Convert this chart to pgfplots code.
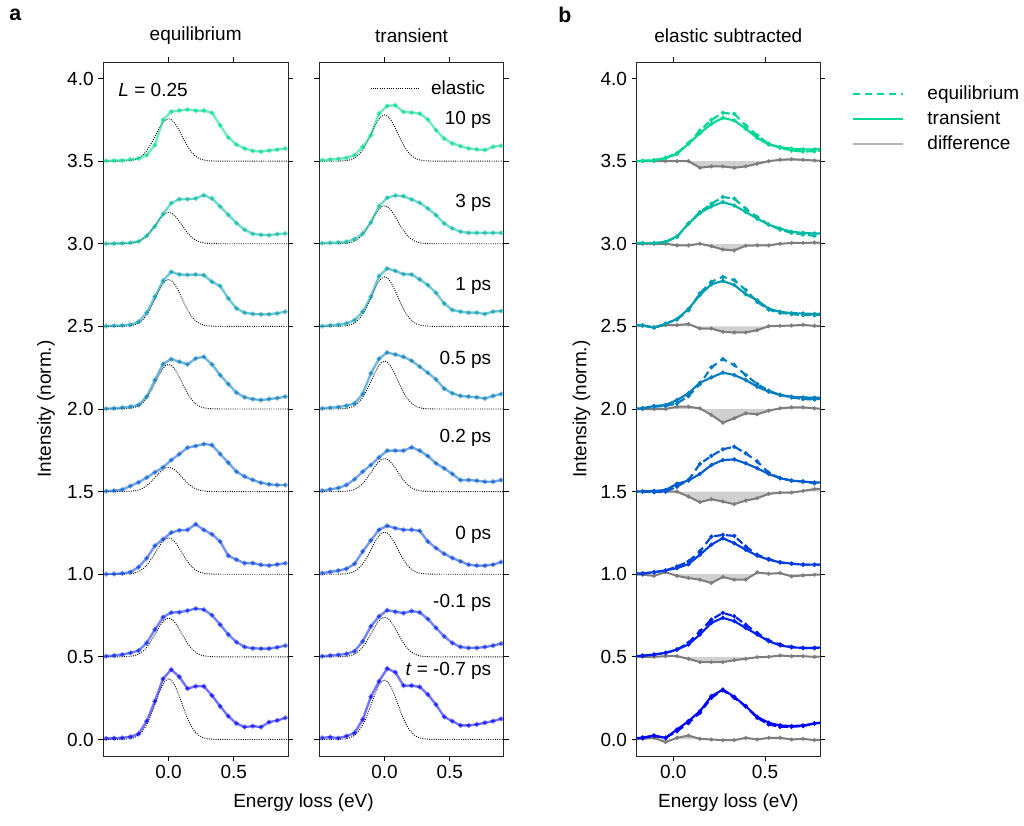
\documentclass[border=0pt]{standalone}
\usepackage{fontspec}
\setmainfont{Liberation Sans}
\usepackage{pgfplots}
\pgfplotsset{compat=1.18}
\usepackage{pgfplotstable}

\definecolor{c0}{RGB}{0,0,255}
\definecolor{c1}{RGB}{0,31,239}
\definecolor{c2}{RGB}{0,62,224}
\definecolor{c3}{RGB}{0,93,209}
\definecolor{c4}{RGB}{0,124,193}
\definecolor{c5}{RGB}{0,155,178}
\definecolor{c6}{RGB}{0,186,162}
\definecolor{c7}{RGB}{0,217,147}
\definecolor{diffc}{RGB}{125,125,125}
\definecolor{diffleg}{RGB}{180,180,180}
\definecolor{fillg}{RGB}{208,208,208}

\newcommand{\fs}{\fontsize{14.25pt}{17pt}\selectfont}

% panel a, equilibrium: intensity above each baseline
\pgfplotstableread{
E r0 r1 r2 r3 r4 r5 r6 r7
-0.48 0.006 0.004 0.001 0.003 0.002 0.002 0.000 0.002
-0.4175 0.008 0.008 0.002 0.006 0.004 0.004 0.001 0.003
-0.355 0.010 0.014 0.005 0.012 0.008 0.006 0.003 0.005
-0.2925 0.016 0.024 0.013 0.034 0.014 0.010 0.006 0.010
-0.23 0.034 0.038 0.043 0.056 0.024 0.028 0.014 0.016
-0.1675 0.111 0.084 0.097 0.085 0.075 0.083 0.048 0.036
-0.105 0.232 0.165 0.172 0.117 0.175 0.180 0.105 0.097
-0.0425 0.367 0.240 0.212 0.147 0.272 0.276 0.180 0.250
0.02 0.423 0.268 0.252 0.191 0.302 0.330 0.246 0.300
0.0825 0.379 0.270 0.266 0.227 0.286 0.314 0.270 0.306
0.145 0.308 0.280 0.268 0.266 0.270 0.312 0.270 0.312
0.2075 0.322 0.292 0.303 0.276 0.306 0.314 0.274 0.306
0.27 0.322 0.286 0.268 0.288 0.316 0.310 0.294 0.306
0.3325 0.266 0.252 0.242 0.282 0.270 0.270 0.274 0.292
0.395 0.201 0.195 0.198 0.228 0.205 0.244 0.226 0.217
0.4575 0.141 0.135 0.112 0.175 0.151 0.169 0.175 0.143
0.52 0.097 0.089 0.088 0.121 0.099 0.109 0.125 0.100
0.5825 0.075 0.060 0.067 0.091 0.071 0.083 0.085 0.077
0.645 0.081 0.052 0.067 0.071 0.060 0.075 0.060 0.062
0.7075 0.075 0.050 0.057 0.054 0.054 0.073 0.054 0.058
0.77 0.105 0.050 0.053 0.044 0.060 0.073 0.052 0.064
0.8325 0.115 0.058 0.059 0.040 0.066 0.079 0.058 0.070
0.895 0.131 0.068 0.067 0.040 0.075 0.089 0.062 0.077
}\tabEq

% panel a, transient
\pgfplotstableread{
E r0 r1 r2 r3 r4 r5 r6 r7
-0.48 0.010 0.004 0.007 0.006 0.004 0.002 0.004 0.006
-0.4175 0.014 0.008 0.014 0.014 0.008 0.006 0.006 0.010
-0.355 0.008 0.012 0.022 0.022 0.012 0.010 0.008 0.014
-0.2925 0.020 0.018 0.033 0.040 0.020 0.018 0.012 0.020
-0.23 0.040 0.034 0.063 0.075 0.034 0.038 0.028 0.036
-0.1675 0.121 0.094 0.138 0.121 0.091 0.089 0.062 0.087
-0.105 0.258 0.185 0.205 0.161 0.216 0.179 0.129 0.157
-0.0425 0.352 0.245 0.269 0.207 0.304 0.304 0.228 0.288
0.02 0.429 0.282 0.293 0.248 0.342 0.350 0.278 0.334
0.0825 0.407 0.273 0.279 0.248 0.330 0.336 0.292 0.338
0.145 0.326 0.265 0.269 0.248 0.316 0.316 0.288 0.298
0.2075 0.326 0.277 0.269 0.268 0.292 0.314 0.268 0.294
0.27 0.318 0.269 0.263 0.248 0.256 0.284 0.248 0.288
0.3325 0.272 0.229 0.198 0.215 0.219 0.250 0.214 0.252
0.395 0.211 0.175 0.158 0.171 0.179 0.203 0.173 0.187
0.4575 0.137 0.124 0.124 0.141 0.123 0.139 0.123 0.137
0.52 0.111 0.084 0.098 0.107 0.095 0.099 0.093 0.107
0.5825 0.085 0.060 0.078 0.070 0.079 0.089 0.073 0.091
0.645 0.085 0.054 0.058 0.070 0.075 0.083 0.066 0.077
0.7075 0.091 0.054 0.052 0.066 0.071 0.083 0.066 0.071
0.77 0.101 0.060 0.052 0.060 0.064 0.075 0.066 0.067
0.8325 0.111 0.068 0.058 0.060 0.079 0.089 0.066 0.087
0.895 0.125 0.080 0.074 0.070 0.091 0.093 0.066 0.093
}\tabTr

% elastic line shape (peak normalised to 1)
\pgfplotstableread{
E g
-0.55 0
-0.45 0
-0.4 0.0003
-0.35 0.0022
-0.3 0.0111
-0.275 0.0228
-0.25 0.0439
-0.225 0.0796
-0.2 0.1353
-0.175 0.2163
-0.15 0.3247
-0.125 0.4578
-0.1 0.6065
-0.075 0.7548
-0.05 0.8825
-0.025 0.9692
0 1
0.025 0.9692
0.05 0.8825
0.075 0.7548
0.1 0.6065
0.125 0.4578
0.15 0.3247
0.175 0.2163
0.2 0.1353
0.225 0.0796
0.25 0.0439
0.275 0.0228
0.3 0.0111
0.35 0.0022
0.4 0.0003
0.45 0
0.95 0
}\tabG

% panel b: e = equilibrium, t = transient, d = difference (above baseline)
\pgfplotstableread{
E e0 t0 d0 e1 t1 d1 e2 t2 d2 e3 t3 d3 e4 t4 d4 e5 t5 d5 e6 t6 d6 e7 t7 d7
-0.23 0.004 0.004 0 0.004 0.004 0 0.003 0.003 0 0 0 0 0 0 0 0.008 0.008 0.008 0.004 0.004 0 0 0 0
-0.1675 0.010 0.012 0.004 0.007 0.007 0 0.005 0.005 -0.003 0 0.002 0 0.004 0.005 0 0.006 0.006 0.004 0.004 0.004 0 0.002 0.002 0
-0.105 0.020 0.024 0.010 0.014 0.014 0 0.011 0.013 -0.010 -0.004 0.004 0 0.014 0.018 0 -0.006 -0.008 -0.007 0.004 0.004 0 0.006 0.004 0
-0.0425 0.010 0.010 -0.016 0.024 0.024 0.004 0.023 0.023 0.013 0.000 0.010 0 0.018 0.024 0 0.015 0.016 0.008 0.011 0.011 0 0.020 0.018 0
0.02 0.050 0.060 0.010 0.044 0.044 0.004 0.047 0.037 -0.010 0.030 0.047 0 0.034 0.054 0.014 0.042 0.045 0.008 0.041 0.045 -0.010 0.048 0.044 0
0.0825 0.100 0.111 0.024 0.085 0.075 -0.012 0.077 0.061 -0.023 0.070 0.067 -0.030 0.078 0.095 0.014 0.098 0.105 0.014 0.122 0.122 -0.010 0.109 0.105 0
0.145 0.161 0.171 0.004 0.155 0.135 -0.032 0.138 0.118 -0.033 0.168 0.107 -0.064 0.151 0.159 0.004 0.200 0.190 -0.013 0.192 0.186 0 0.185 0.169 -0.040
0.2075 0.252 0.262 0 0.226 0.206 -0.032 0.228 0.179 -0.053 0.216 0.161 -0.046 0.252 0.191 -0.036 0.270 0.255 -0.013 0.242 0.226 -0.015 0.250 0.226 -0.032
0.27 0.298 0.302 -0.004 0.266 0.236 -0.032 0.238 0.218 -0.017 0.256 0.191 -0.060 0.302 0.220 -0.083 0.300 0.275 -0.033 0.283 0.252 -0.035 0.292 0.262 -0.032
0.3325 0.252 0.258 -0.004 0.246 0.216 -0.020 0.232 0.188 -0.033 0.272 0.195 -0.076 0.266 0.206 -0.056 0.280 0.250 -0.037 0.273 0.232 -0.040 0.286 0.246 -0.040
0.395 0.201 0.201 0.010 0.195 0.175 -0.012 0.168 0.148 -0.033 0.232 0.171 -0.054 0.205 0.175 -0.026 0.220 0.195 -0.037 0.212 0.192 -0.012 0.216 0.196 -0.032
0.4575 0.131 0.137 0 0.145 0.135 -0.002 0.118 0.112 0.011 0.182 0.141 -0.040 0.151 0.135 -0.032 0.148 0.158 -0.023 0.162 0.152 -0.010 0.155 0.141 -0.016
0.52 0.091 0.101 0.010 0.100 0.095 0 0.092 0.088 0.003 0.115 0.107 -0.014 0.111 0.105 -0.010 0.101 0.107 0.001 0.116 0.116 -0.010 0.105 0.101 0
0.5825 0.077 0.085 0.010 0.075 0.069 0.008 0.072 0.072 0.007 0.081 0.081 -0.006 0.085 0.085 0.004 0.082 0.088 0.003 0.086 0.092 0 0.081 0.085 0.008
0.645 0.077 0.081 0 0.060 0.058 0.004 0.064 0.064 -0.013 0.067 0.067 -0.006 0.070 0.074 0.010 0.074 0.080 0.005 0.066 0.072 0.005 0.064 0.075 0.012
0.7075 0.081 0.085 0.004 0.054 0.054 0.004 0.058 0.058 -0.007 0.061 0.061 0.004 0.060 0.070 0.010 0.068 0.078 0.009 0.056 0.066 0.005 0.058 0.071 0.008
0.77 0.097 0.097 -0.004 0.054 0.054 0 0.058 0.058 -0.003 0.051 0.055 0.016 0.058 0.068 0.004 0.068 0.075 0.003 0.048 0.062 0.007 0.060 0.071 0.004
0.8325 0.105 0.105 0 0.058 0.058 0.004 0.058 0.058 0 0.045 0.055 0.016 0.064 0.070 0 0.074 0.078 0.001 0.045 0.062 0.007 0.068 0.075 0
}\tabB

% difference area polygons: the difference values, then back along the baseline
\pgfplotstableread{
E d0 d1 d2 d3 d4 d5 d6 d7
-0.23 0 0 0 0 0 0.008 0 0
-0.1675 0.004 0 -0.003 0 0 0.004 0 0
-0.105 0.010 0 -0.010 0 0 -0.007 0 0
-0.0425 -0.016 0.004 0.013 0 0 0.008 0 0
0.02 0.010 0.004 -0.010 0 0.014 0.008 -0.010 0
0.0825 0.024 -0.012 -0.023 -0.030 0.014 0.014 -0.010 0
0.145 0.004 -0.032 -0.033 -0.064 0.004 -0.013 0 -0.040
0.2075 0 -0.032 -0.053 -0.046 -0.036 -0.013 -0.015 -0.032
0.27 -0.004 -0.032 -0.017 -0.060 -0.083 -0.033 -0.035 -0.032
0.3325 -0.004 -0.020 -0.033 -0.076 -0.056 -0.037 -0.040 -0.040
0.395 0.010 -0.012 -0.033 -0.054 -0.026 -0.037 -0.012 -0.032
0.4575 0 -0.002 0.011 -0.040 -0.032 -0.023 -0.010 -0.016
0.52 0.010 0 0.003 -0.014 -0.010 0.001 -0.010 0
0.5825 0.010 0.008 0.007 -0.006 0.004 0.003 0 0.008
0.645 0 0.004 -0.013 -0.006 0.010 0.005 0.005 0.012
0.7075 0.004 0.004 -0.007 0.004 0.010 0.009 0.005 0.008
0.77 -0.004 0 -0.003 0.016 0.004 0.003 0.007 0.004
0.8325 0 0.004 0 0.016 0 0.001 0.007 0
0.8325 0 0 0 0 0 0 0 0
-0.23 0 0 0 0 0 0 0 0
}\tabD

\pgfplotsset{
  base/.style={
    scale only axis, height=520.5pt, clip mode=individual,
    ymin=-0.1, ymax=4.1,
    ytick={0,0.5,1,1.5,2,2.5,3,3.5,4},
    xtick={0,0.5},
    tick align=outside, major tick length=3.75pt,
    tick style={black, line width=0.6pt},
    axis line style={line width=0.6pt, black!85},
    xticklabel pos=lower, yticklabel pos=left,
    /pgf/number format/assume math mode=true,
    ticklabel style={font=\fs},
    xticklabel style={/pgf/number format/.cd, fixed, fixed zerofill, precision=1},
    yticklabel style={/pgf/number format/.cd, fixed, fixed zerofill, precision=1},
    label style={font=\fs},
    every axis title/.style={font=\fs, at={(0.5,1.0375)}, anchor=center},
    xlabel style={at={(0.5,-0.0677)}, anchor=center},
    ylabel style={anchor=center},
  },
  dat/.style={color=#1, line width=1.8pt, opacity=0.55, mark=*, mark size=0.8pt, forget plot},
  ela/.style={black, line width=0.7pt, densely dotted, forget plot},
  eqs/.style={color=#1, line width=1.6pt, dash pattern=on 5.5pt off 3.5pt, mark=*, mark size=0.65pt, mark options={solid}, forget plot},
  trs/.style={color=#1, line width=1.6pt, mark=*, mark size=0.65pt, forget plot},
  diffl/.style={diffc, line width=1.5pt, mark=*, mark size=0.6pt, forget plot},
}

\newcommand{\grp}[3]{%
  \addplot[fill=fillg, draw=none, forget plot] table[x=E, y expr=\thisrow{d#1}+#2] {\tabD} -- cycle;
  \addplot[diffl] table[x=E, y expr=\thisrow{d#1}+#2] {\tabB};
  \addplot[eqs=#3] table[x=E, y expr=\thisrow{e#1}+#2] {\tabB};
  \addplot[trs=#3] table[x=E, y expr=\thisrow{t#1}+#2] {\tabB};
}

\begin{document}
\begin{tikzpicture}
\useasboundingbox (0,0) rectangle (768pt,618.75pt);

% ---------------- equilibrium
\begin{axis}[base, at={(77.5pt,51.75pt)}, anchor=south west, width=138.5pt,
  xmin=-0.5, xmax=0.915, title={equilibrium},
  ylabel={Intensity (norm.)}, ylabel style={at={(-0.31,0.5)}}]
\addplot[ela] table[x=E, y expr=0.367*\thisrow{g}+0] {\tabG};
\addplot[ela] table[x=E, y expr=0.235*\thisrow{g}+0.5] {\tabG};
\addplot[ela] table[x=E, y expr=0.22*\thisrow{g}+1] {\tabG};
\addplot[ela] table[x=E, y expr=0.147*\thisrow{g}+1.5] {\tabG};
\addplot[ela] table[x=E, y expr=0.27*\thisrow{g}+2] {\tabG};
\addplot[ela] table[x=E, y expr=0.284*\thisrow{g}+2.5] {\tabG};
\addplot[ela] table[x=E, y expr=0.19*\thisrow{g}+3] {\tabG};
\addplot[ela] table[x=E, y expr=0.257*\thisrow{g}+3.5] {\tabG};
\addplot[dat=c0] table[x=E, y expr=\thisrow{r0}+0] {\tabEq};
\addplot[dat=c1] table[x=E, y expr=\thisrow{r1}+0.5] {\tabEq};
\addplot[dat=c2] table[x=E, y expr=\thisrow{r2}+1] {\tabEq};
\addplot[dat=c3] table[x=E, y expr=\thisrow{r3}+1.5] {\tabEq};
\addplot[dat=c4] table[x=E, y expr=\thisrow{r4}+2] {\tabEq};
\addplot[dat=c5] table[x=E, y expr=\thisrow{r5}+2.5] {\tabEq};
\addplot[dat=c6] table[x=E, y expr=\thisrow{r6}+3] {\tabEq};
\addplot[dat=c7] table[x=E, y expr=\thisrow{r7}+3.5] {\tabEq};
\node[anchor=west, font=\fs] at (axis cs:-0.42,3.933) {\textit{L} = 0.25};
\node[font=\fontsize{16pt}{18pt}\selectfont\bfseries] at (axis description cs:-0.476,1.068) {a};
\end{axis}

% ---------------- transient
\begin{axis}[base, at={(239.55pt,51.75pt)}, anchor=south west, width=138.3pt,
  xmin=-0.5, xmax=0.915, title={transient}, yticklabels={},
  xlabel={Energy loss (eV)}, xlabel style={at={(-0.086,-0.0677)}},
  legend style={draw=none, fill=none, at={(0.274,0.975)}, anchor=north west,
    inner sep=0pt, font=\fs, nodes={inner sep=1pt}},
  legend image code/.code={\draw[#1] (0pt,0pt) -- (37pt,0pt); \path (44pt,0pt);}]
\addlegendimage{black, line width=0.7pt, densely dotted}
\addlegendentry{elastic}
\addplot[ela] table[x=E, y expr=0.36*\thisrow{g}+0] {\tabG};
\addplot[ela] table[x=E, y expr=0.24*\thisrow{g}+0.5] {\tabG};
\addplot[ela] table[x=E, y expr=0.255*\thisrow{g}+1] {\tabG};
\addplot[ela] table[x=E, y expr=0.20*\thisrow{g}+1.5] {\tabG};
\addplot[ela] table[x=E, y expr=0.29*\thisrow{g}+2] {\tabG};
\addplot[ela] table[x=E, y expr=0.30*\thisrow{g}+2.5] {\tabG};
\addplot[ela] table[x=E, y expr=0.23*\thisrow{g}+3] {\tabG};
\addplot[ela] table[x=E, y expr=0.28*\thisrow{g}+3.5] {\tabG};
\addplot[dat=c0] table[x=E, y expr=\thisrow{r0}+0] {\tabTr};
\addplot[dat=c1] table[x=E, y expr=\thisrow{r1}+0.5] {\tabTr};
\addplot[dat=c2] table[x=E, y expr=\thisrow{r2}+1] {\tabTr};
\addplot[dat=c3] table[x=E, y expr=\thisrow{r3}+1.5] {\tabTr};
\addplot[dat=c4] table[x=E, y expr=\thisrow{r4}+2] {\tabTr};
\addplot[dat=c5] table[x=E, y expr=\thisrow{r5}+2.5] {\tabTr};
\addplot[dat=c6] table[x=E, y expr=\thisrow{r6}+3] {\tabTr};
\addplot[dat=c7] table[x=E, y expr=\thisrow{r7}+3.5] {\tabTr};
\node[anchor=east, font=\fs] at (axis cs:0.855,3.752) {10 ps};
\node[anchor=east, font=\fs] at (axis cs:0.855,3.248) {3 ps};
\node[anchor=east, font=\fs] at (axis cs:0.855,2.744) {1 ps};
\node[anchor=east, font=\fs] at (axis cs:0.855,2.296) {0.5 ps};
\node[anchor=east, font=\fs] at (axis cs:0.855,1.828) {0.2 ps};
\node[anchor=east, font=\fs] at (axis cs:0.855,1.236) {0 ps};
\node[anchor=east, font=\fs] at (axis cs:0.855,0.827) {-0.1 ps};
\node[anchor=east, font=\fs] at (axis cs:0.855,0.414) {\textit{t} = -0.7 ps};
\end{axis}

% ---------------- elastic subtracted
\begin{axis}[base, at={(477.5pt,51.75pt)}, anchor=south west, width=137.5pt,
  xmin=-0.2, xmax=0.8, title={elastic subtracted},
  xlabel={Energy loss (eV)},
  ylabel={Intensity (norm.)}, ylabel style={at={(-0.301,0.5)}},
  legend style={draw=none, fill=none, at={(1.173,0.968)}, anchor=north west,
    inner sep=0pt, font=\fs, row sep=5pt, nodes={inner sep=1pt}},
  legend cell align=left,
  legend image code/.code={\draw[#1] (0pt,0pt) -- (37.5pt,0pt); \path (54pt,0pt);}]
\addlegendimage{c7, line width=1.6pt, dash pattern=on 5.5pt off 3.5pt}
\addlegendentry{equilibrium}
\addlegendimage{c7, line width=1.6pt}
\addlegendentry{transient}
\addlegendimage{diffleg, line width=1.6pt}
\addlegendentry{difference}
\grp{0}{0}{c0}
\grp{1}{0.5}{c1}
\grp{2}{1}{c2}
\grp{3}{1.5}{c3}
\grp{4}{2}{c4}
\grp{5}{2.5}{c5}
\grp{6}{3}{c6}
\grp{7}{3.5}{c7}
\node[font=\fontsize{16pt}{18pt}\selectfont\bfseries] at (axis description cs:-0.391,1.068) {b};
\end{axis}
\end{tikzpicture}
\end{document}
